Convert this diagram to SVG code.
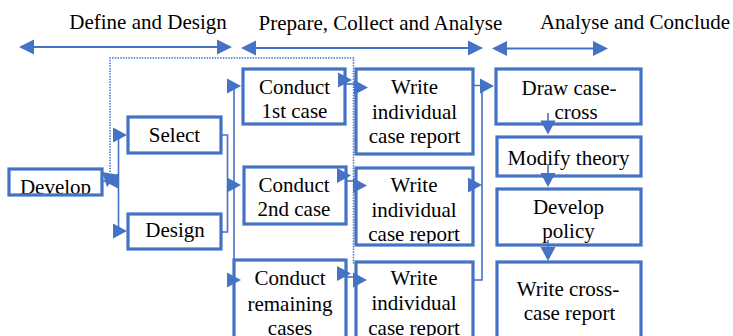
<svg xmlns="http://www.w3.org/2000/svg" width="733" height="336" viewBox="0 0 733 336" font-family="'Times New Roman', 'Liberation Serif', 'DejaVu Serif', serif">
<style>
.box{fill:#fff;stroke:#4472C4;stroke-width:3.2}
.t{font-family:'Times New Roman','Liberation Serif','DejaVu Serif',serif;font-size:21px;fill:#000;text-anchor:middle}
.c{fill:none;stroke:#4472C4;stroke-width:1.6}
.h{fill:none;stroke:#4472C4;stroke-width:2.2}
.dot{fill:none;stroke:#4472C4;stroke-width:1.5;stroke-dasharray:1.5 1.2}
.ah{fill:#4472C4}
</style>
<defs>
<path id="a" d="M0,0 L-14,-7.5 L-14,7.5 Z"/>
<path id="ha" d="M0,0 L-15,-7.5 L-15,7.5 Z"/>
<clipPath id="cDev"><rect x="10.6" y="170.6" width="89.8" height="22.8"/></clipPath>
<clipPath id="cW2"><rect x="357.6" y="169.6" width="113.8" height="73.8"/></clipPath>
<clipPath id="cDraw"><rect x="497.6" y="70.6" width="141.8" height="51.3"/></clipPath>
</defs>

<g id="phases">
<text class="t" x="148" y="29">Define and Design</text>
<text class="t" x="380.5" y="29.5">Prepare, Collect and Analyse</text>
<text class="t" x="635" y="29">Analyse and Conclude</text>
<path class="h" d="M33,47 H218"/>
<use href="#ha" class="ah" transform="translate(19,47) rotate(180)"/>
<use href="#ha" class="ah" transform="translate(232,47)"/>
<path class="h" d="M255,48 H469"/>
<use href="#ha" class="ah" transform="translate(241,48) rotate(180)"/>
<use href="#ha" class="ah" transform="translate(483,48)"/>
<path class="h" d="M506,48.5 H594"/>
<use href="#ha" class="ah" transform="translate(492,48.5) rotate(180)"/>
<use href="#ha" class="ah" transform="translate(608,48.5)"/>
</g>

<g id="develop">
<rect class="box" x="9" y="169" width="93" height="26"/>
<text class="t" x="55.5" y="194" clip-path="url(#cDev)">Develop</text>
</g>
<g id="select">
<rect class="box" x="128" y="117" width="93" height="36"/>
<text class="t" x="174.5" y="142">Select</text>
</g>
<g id="design">
<rect class="box" x="128" y="214" width="93" height="35"/>
<text class="t" x="175" y="237">Design</text>
</g>

<g id="conduct1">
<rect class="box" x="243" y="69" width="102" height="55"/>
<text class="t" x="294.5" y="94">Conduct</text>
<text class="t" x="294.5" y="118">1st case</text>
</g>
<g id="conduct2">
<rect class="box" x="244" y="167" width="102" height="57"/>
<text class="t" x="294" y="192">Conduct</text>
<text class="t" x="294" y="216">2nd case</text>
</g>
<g id="conduct3">
<rect class="box" x="234" y="260" width="112" height="100"/>
<text class="t" x="290" y="285">Conduct</text>
<text class="t" x="290" y="310.5">remaining</text>
<text class="t" x="290" y="335">cases</text>
</g>

<g id="write1">
<rect class="box" x="356" y="69" width="117" height="85"/>
<text class="t" x="414.5" y="94">Write</text>
<text class="t" x="414.5" y="118.5">individual</text>
<text class="t" x="414.5" y="143">case report</text>
</g>
<g id="write2">
<rect class="box" x="356" y="168" width="117" height="77"/>
<text class="t" x="414" y="192" clip-path="url(#cW2)">Write</text>
<text class="t" x="414" y="216.5" clip-path="url(#cW2)">individual</text>
<text class="t" x="414" y="241" clip-path="url(#cW2)">case report</text>
</g>
<g id="write3">
<rect class="box" x="356" y="262" width="117" height="100"/>
<text class="t" x="414" y="285">Write</text>
<text class="t" x="414" y="310">individual</text>
<text class="t" x="414" y="335">case report</text>
</g>

<g id="drawcross">
<rect class="box" x="496" y="69" width="145" height="55"/>
<text class="t" x="569" y="95" clip-path="url(#cDraw)">Draw case-</text>
<text class="t" x="576" y="119" clip-path="url(#cDraw)">cross</text>
</g>
<g id="modify">
<rect class="box" x="497" y="137" width="144" height="39"/>
<text class="t" x="568.5" y="165">Modify theory</text>
</g>
<g id="policy">
<rect class="box" x="497" y="189" width="144" height="56"/>
<text class="t" x="568.5" y="214">Develop</text>
<text class="t" x="568.5" y="238">policy</text>
</g>
<g id="crossreport">
<rect class="box" x="497" y="262" width="144" height="100"/>
<text class="t" x="568" y="295.5">Write cross-</text>
<text class="t" x="569.5" y="320">case report</text>
</g>

<g id="connectors">
<path class="dot" d="M110,172 V58 H353.5 V264"/>
<use href="#a" class="ah" transform="translate(107,187) rotate(100)"/>
<path class="c" d="M102,181 H118.5 M118.5,135 V231 M118.5,135 H120 M118.5,231 H120"/>
<use href="#a" class="ah" transform="translate(104,181) rotate(180)"/>
<use href="#a" class="ah" transform="translate(127,135)"/>
<use href="#a" class="ah" transform="translate(127,231)"/>
<path class="c" d="M221,135 H227.5 V232 H221 M227.5,185 H232"/>
<use href="#a" class="ah" transform="translate(241,185)"/>
<path class="c" d="M234,86 V336 M234,86 H230 M234,280 H230"/>
<use href="#a" class="ah" transform="translate(241,86)"/>
<use href="#a" class="ah" transform="translate(241,280)"/>
<path class="c" d="M345,84 H358"/>
<use href="#a" class="ah" transform="translate(352,80)"/>
<use href="#a" class="ah" transform="translate(368,87.5)"/>
<path class="c" d="M346,181 H357"/>
<use href="#a" class="ah" transform="translate(351,175.5)"/>
<use href="#a" class="ah" transform="translate(367,185.5)"/>
<path class="c" d="M346,277 H357"/>
<use href="#a" class="ah" transform="translate(351,273.5)"/>
<use href="#a" class="ah" transform="translate(367,280)"/>
<path class="c" d="M473,85.5 H482 V280 H473"/>
<use href="#a" class="ah" transform="translate(494,86)"/>
<use href="#a" class="ah" transform="translate(482,185)"/>
<path class="c" d="M473,185 H470"/>
<path class="c" d="M548,113 V126 M548,165 V178 M548,240 V252"/>
<use href="#a" class="ah" transform="translate(548,134.5) rotate(90)"/>
<use href="#a" class="ah" transform="translate(548,187) rotate(90)"/>
<use href="#a" class="ah" transform="translate(548,261) rotate(90)"/>
</g>
</svg>
